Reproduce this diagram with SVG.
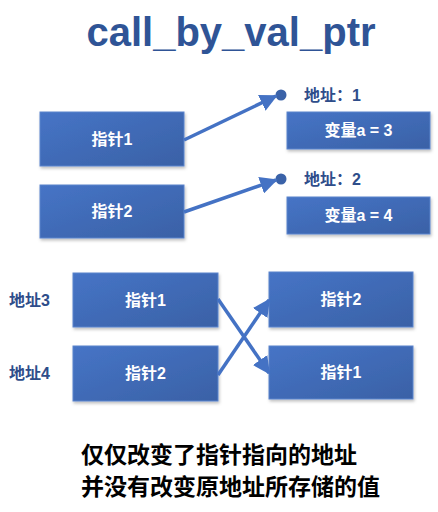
<svg xmlns="http://www.w3.org/2000/svg" width="438" height="512" viewBox="0 0 438 512">
<defs>
<linearGradient id="g" x1="0" y1="0" x2="1" y2="1">
<stop offset="0" stop-color="#4674C6"/>
<stop offset="1" stop-color="#3A61A6"/>
</linearGradient>
<filter id="sh" x="-10%" y="-10%" width="125%" height="135%">
<feDropShadow dx="1" dy="2" stdDeviation="1.5" flood-color="#000" flood-opacity="0.25"/>
</filter>
<marker id="ah" viewBox="0 0 10 10" refX="9" refY="5" markerWidth="5" markerHeight="5" orient="auto" markerUnits="strokeWidth">
<path d="M0,0 L10,5 L0,10 z" fill="#4472C4"/>
</marker>
<style>
.box{fill:url(#g);stroke:#5B84CC;stroke-width:1;filter:url(#sh)}
.bt{font-family:"Liberation Sans","Noto Sans CJK SC",sans-serif;font-weight:bold;font-size:16px;fill:#fff;text-anchor:middle;dominant-baseline:central}
.lb{font-family:"Liberation Sans","Noto Sans CJK SC",sans-serif;font-weight:bold;font-size:16px;fill:#2E4D8A;dominant-baseline:central}
.cn{stroke:#4472C4;stroke-width:3.5;fill:none;marker-end:url(#ah)}
.ft{font-family:"Liberation Sans","Noto Sans CJK SC",sans-serif;font-weight:bold;font-size:23px;fill:#000}
</style>
</defs>
<rect width="438" height="512" fill="#fff"/>
<text x="231" y="46" text-anchor="middle" font-family="Liberation Sans, sans-serif" font-weight="bold" font-size="40" fill="#2F5496">call_by_val_ptr</text>

<g id="p1"><rect class="box" x="40" y="112" width="144" height="54"/><text class="bt" x="112" y="139">指针1</text></g>
<g id="p2"><rect class="box" x="40" y="185" width="144" height="53"/><text class="bt" x="112" y="211.5">指针2</text></g>
<g id="a1"><circle cx="281" cy="95" r="5.5" fill="#3A62A8"/><text class="lb" x="304" y="95">地址：1</text></g>
<g id="v1"><rect class="box" x="287" y="112" width="143" height="37"/><text class="bt" x="358.5" y="130.5">变量a = 3</text></g>
<g id="a2"><circle cx="281" cy="179" r="5.5" fill="#3A62A8"/><text class="lb" x="304" y="179">地址：2</text></g>
<g id="v2"><rect class="box" x="287" y="197" width="143" height="37"/><text class="bt" x="358.5" y="215.5">变量a = 4</text></g>

<g id="l3"><text class="lb" x="9" y="300">地址3</text></g>
<g id="l4"><text class="lb" x="9" y="373">地址4</text></g>
<g id="q1"><rect class="box" x="73" y="273" width="145" height="54"/><text class="bt" x="145.5" y="300">指针1</text></g>
<g id="q2"><rect class="box" x="73" y="346" width="145" height="55"/><text class="bt" x="145.5" y="373.5">指针2</text></g>
<g id="r1"><rect class="box" x="269" y="272" width="144" height="55"/><text class="bt" x="341" y="299.5">指针2</text></g>
<g id="r2"><rect class="box" x="269" y="346" width="144" height="53"/><text class="bt" x="341" y="372.5">指针1</text></g>

<g id="connectors">
<line class="cn" x1="184" y1="140" x2="276" y2="96"/>
<line class="cn" x1="184" y1="212" x2="276" y2="180"/>
<line class="cn" x1="218" y1="299" x2="269" y2="373"/>
<line class="cn" x1="218" y1="375" x2="269" y2="300"/>
</g>

<text class="ft" x="81" y="463">仅仅改变了指针指向的地址</text>
<text class="ft" x="81" y="495">并没有改变原地址所存储的值</text>
</svg>
